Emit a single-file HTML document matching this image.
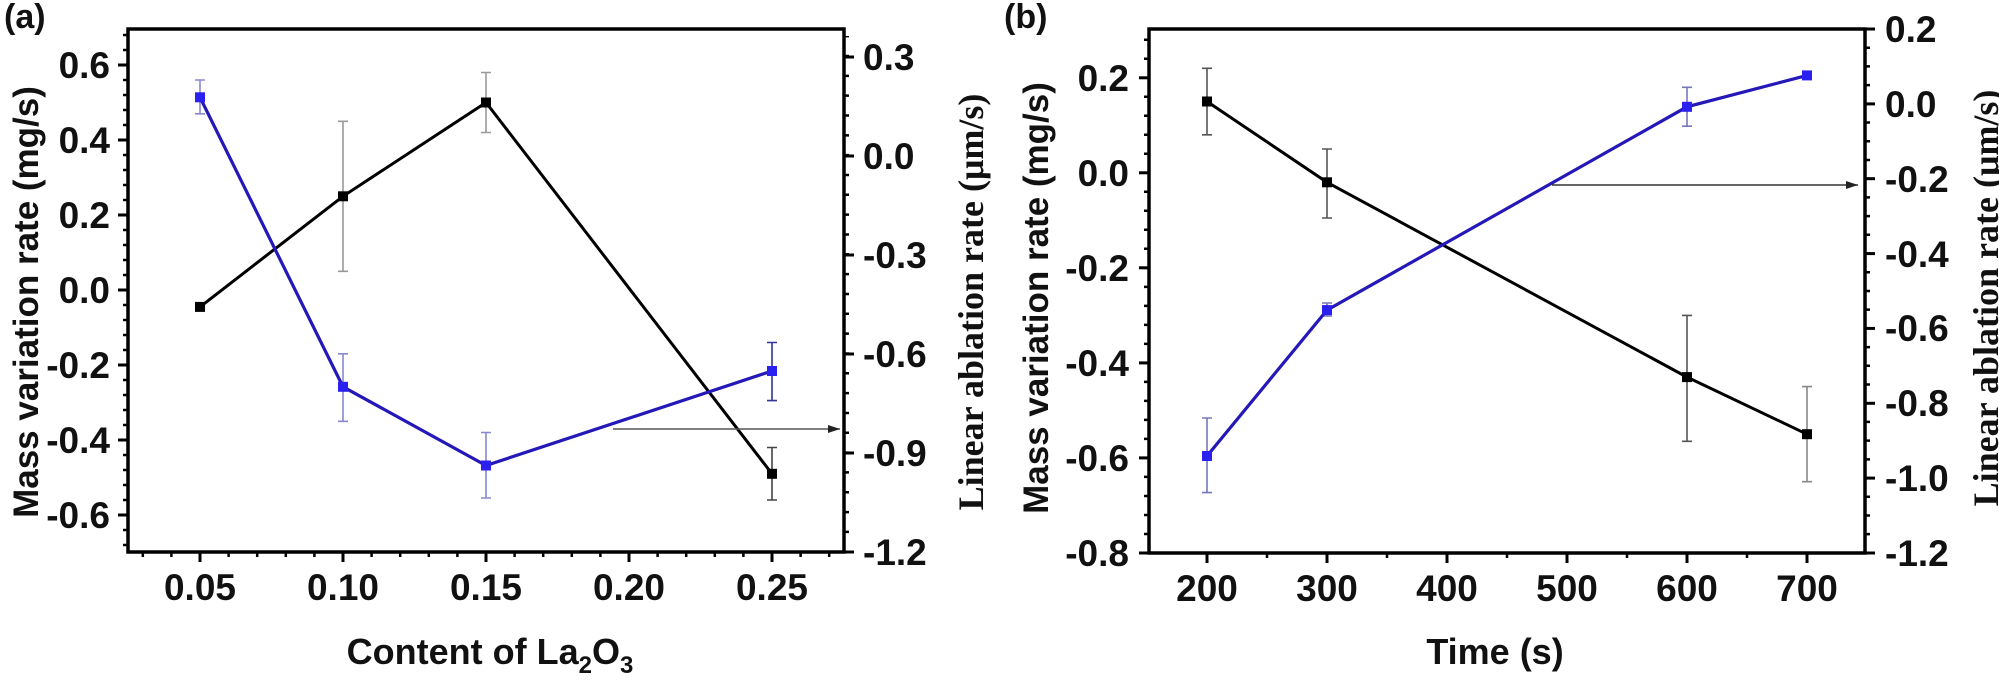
<!DOCTYPE html>
<html><head><meta charset="utf-8"><style>
html,body{margin:0;padding:0;background:#fff;}
svg{display:block;}
.t{font-family:"Liberation Sans",Arial,sans-serif;font-weight:bold;font-size:37px;fill:#111;}
.s{font-family:"Liberation Serif","Times New Roman",serif;font-weight:bold;font-size:36px;fill:#111;}
</style></head><body>
<svg width="1999" height="680" viewBox="0 0 1999 680" xmlns="http://www.w3.org/2000/svg">
<defs>
<marker id="ah" markerWidth="12" markerHeight="8" refX="12" refY="4" orient="auto" markerUnits="userSpaceOnUse"><path d="M0,0 L12,4 L0,8 Z" fill="#222"/></marker>
</defs>

<!-- ===== Panel (a) ===== -->
<text class="t" x="4" y="28" style="font-size:34px">(a)</text>
<rect x="128" y="29" width="716" height="523" fill="none" stroke="#000" stroke-width="3.5"/>
<!-- minor ticks -->
<line x1="125.5" y1="33.75" x2="125.5" y2="547" stroke="#000" stroke-width="5" stroke-dasharray="2.5 12.5"/>
<line x1="846.5" y1="553" x2="846.5" y2="35.95" stroke="#000" stroke-width="5" stroke-dasharray="2.5 17.33"/>
<line x1="141.55" y1="554.5" x2="831" y2="554.5" stroke="#000" stroke-width="5" stroke-dasharray="2.5 26.1"/>
<!-- major ticks -->
<g stroke="#000" stroke-width="3">
<line x1="118" y1="65" x2="128" y2="65"/><line x1="118" y1="140" x2="128" y2="140"/><line x1="118" y1="215" x2="128" y2="215"/><line x1="118" y1="290" x2="128" y2="290"/><line x1="118" y1="365" x2="128" y2="365"/><line x1="118" y1="440" x2="128" y2="440"/><line x1="118" y1="515" x2="128" y2="515"/>
<line x1="844" y1="57" x2="854" y2="57"/><line x1="844" y1="156" x2="854" y2="156"/><line x1="844" y1="255" x2="854" y2="255"/><line x1="844" y1="354" x2="854" y2="354"/><line x1="844" y1="453" x2="854" y2="453"/><line x1="844" y1="552" x2="854" y2="552"/>
<line x1="200" y1="552" x2="200" y2="562"/><line x1="343" y1="552" x2="343" y2="562"/><line x1="486" y1="552" x2="486" y2="562"/><line x1="629" y1="552" x2="629" y2="562"/><line x1="772" y1="552" x2="772" y2="562"/>
</g>
<g class="t" text-anchor="end">
<text x="110" y="78">0.6</text><text x="110" y="153">0.4</text><text x="110" y="228">0.2</text><text x="110" y="303">0.0</text><text x="110" y="378">-0.2</text><text x="110" y="453">-0.4</text><text x="110" y="528">-0.6</text>
</g>
<g class="t">
<text x="863" y="70">0.3</text><text x="863" y="169">0.0</text><text x="863" y="268">-0.3</text><text x="863" y="367">-0.6</text><text x="863" y="466">-0.9</text><text x="863" y="565">-1.2</text>
</g>
<g class="t" text-anchor="middle">
<text x="200" y="600">0.05</text><text x="343" y="600">0.10</text><text x="486" y="600">0.15</text><text x="629" y="600">0.20</text><text x="772" y="600">0.25</text>
</g>
<text class="t" text-anchor="middle" transform="translate(38,302) rotate(-90)" style="font-size:35px">Mass variation rate (mg/s)</text>
<text class="s" text-anchor="middle" transform="translate(983,302) rotate(-90)">Linear ablation rate (μm/s)</text>
<text class="t" text-anchor="middle" x="490" y="664" style="font-size:36px">Content of La<tspan font-size="24" dy="9">2</tspan><tspan dy="-9">O</tspan><tspan font-size="24" dy="9">3</tspan></text>

<!-- error bars a -->
<g stroke="#999" stroke-width="1.6" fill="none">
<path d="M343,121.3V271.3M338,121.3h10M338,271.3h10"/>
<path d="M486,72.5V132.5M481,72.5h10M481,132.5h10"/>
<path d="M772,447.5V500M767,447.5h10M767,500h10" stroke="#444"/>
</g>
<g stroke="#8888cc" stroke-width="1.6" fill="none">
<path d="M200,80V113.8M195,80h10M195,113.8h10"/>
<path d="M343,353.8V421.3M338,353.8h10M338,421.3h10"/>
<path d="M486,432.5V498M481,432.5h10M481,498h10"/>
<path d="M772,342.5V400.6M767,342.5h10M767,400.6h10" stroke="#333399"/>
</g>
<polyline points="200,306.9 343,196.3 486,102.5 772,473.8" fill="none" stroke="#000" stroke-width="3"/>
<polyline points="200,97.3 343,386.8 486,465.5 772,371" fill="none" stroke="#2418b8" stroke-width="3.2"/>
<g fill="#000"><rect x="195" y="301.9" width="10" height="10"/><rect x="338" y="191.3" width="10" height="10"/><rect x="481" y="97.5" width="10" height="10"/><rect x="767" y="468.8" width="10" height="10"/></g>
<g fill="#2a20f0"><rect x="195" y="92.3" width="10" height="10"/><rect x="338" y="381.8" width="10" height="10"/><rect x="481" y="460.5" width="10" height="10"/><rect x="767" y="366" width="10" height="10"/></g>
<line x1="613" y1="429" x2="840" y2="429" stroke="#555" stroke-width="1.5" marker-end="url(#ah)"/>

<!-- ===== Panel (b) ===== -->
<text class="t" x="1004" y="28" style="font-size:34px">(b)</text>
<rect x="1149" y="29" width="716" height="524" fill="none" stroke="#000" stroke-width="3.5"/>
<line x1="1146.5" y1="38.45" x2="1146.5" y2="554" stroke="#000" stroke-width="5" stroke-dasharray="2.5 16.51"/>
<line x1="1867.5" y1="27.75" x2="1867.5" y2="554" stroke="#000" stroke-width="5" stroke-dasharray="2.5 16.21"/>
<line x1="1205.75" y1="555.5" x2="1810" y2="555.5" stroke="#000" stroke-width="5" stroke-dasharray="2.5 57.5"/>
<g stroke="#000" stroke-width="3">
<line x1="1139" y1="77.8" x2="1149" y2="77.8"/><line x1="1139" y1="172.8" x2="1149" y2="172.8"/><line x1="1139" y1="267.8" x2="1149" y2="267.8"/><line x1="1139" y1="362.9" x2="1149" y2="362.9"/><line x1="1139" y1="457.9" x2="1149" y2="457.9"/><line x1="1139" y1="553" x2="1149" y2="553"/>
<line x1="1865" y1="29" x2="1875" y2="29"/><line x1="1865" y1="103.9" x2="1875" y2="103.9"/><line x1="1865" y1="178.7" x2="1875" y2="178.7"/><line x1="1865" y1="253.6" x2="1875" y2="253.6"/><line x1="1865" y1="328.4" x2="1875" y2="328.4"/><line x1="1865" y1="403.3" x2="1875" y2="403.3"/><line x1="1865" y1="478.1" x2="1875" y2="478.1"/><line x1="1865" y1="553" x2="1875" y2="553"/>
<line x1="1207" y1="553" x2="1207" y2="563"/><line x1="1327" y1="553" x2="1327" y2="563"/><line x1="1447" y1="553" x2="1447" y2="563"/><line x1="1567" y1="553" x2="1567" y2="563"/><line x1="1687" y1="553" x2="1687" y2="563"/><line x1="1807" y1="553" x2="1807" y2="563"/>
</g>
<g class="t" text-anchor="end">
<text x="1129" y="91">0.2</text><text x="1129" y="186">0.0</text><text x="1129" y="281">-0.2</text><text x="1129" y="376">-0.4</text><text x="1129" y="471">-0.6</text><text x="1129" y="566">-0.8</text>
</g>
<g class="t">
<text x="1885" y="42">0.2</text><text x="1885" y="117">0.0</text><text x="1885" y="192">-0.2</text><text x="1885" y="267">-0.4</text><text x="1885" y="341">-0.6</text><text x="1885" y="416">-0.8</text><text x="1885" y="491">-1.0</text><text x="1885" y="566">-1.2</text>
</g>
<g class="t" text-anchor="middle">
<text x="1207" y="601">200</text><text x="1327" y="601">300</text><text x="1447" y="601">400</text><text x="1567" y="601">500</text><text x="1687" y="601">600</text><text x="1807" y="601">700</text>
</g>
<text class="t" text-anchor="middle" transform="translate(1048,298) rotate(-90)" style="font-size:35px">Mass variation rate (mg/s)</text>
<text class="s" text-anchor="middle" transform="translate(1998,298) rotate(-90)">Linear ablation rate (μm/s)</text>
<text class="t" text-anchor="middle" x="1495" y="664" style="font-size:36px">Time (s)</text>

<g stroke="#555" stroke-width="1.6" fill="none">
<path d="M1207,68.3V134.8M1202,68.3h10M1202,134.8h10"/>
<path d="M1327,149V218M1322,149h10M1322,218h10"/>
<path d="M1687,315.4V441.3M1682,315.4h10M1682,441.3h10"/>
<path d="M1807,386.6V481.7M1802,386.6h10M1802,481.7h10" stroke="#888"/>
</g>
<g stroke="#7777bb" stroke-width="1.6" fill="none">
<path d="M1207,418V492.6M1202,418h10M1202,492.6h10"/>
<path d="M1327,303V316M1322,303h10M1322,316h10"/>
<path d="M1687,87.3V126.2M1682,87.3h10M1682,126.2h10"/>
</g>
<polyline points="1207,101.5 1327,182.3 1687,377.1 1807,434.2" fill="none" stroke="#000" stroke-width="3"/>
<polyline points="1207,456 1327,310.1 1687,106.8 1807,75.4" fill="none" stroke="#2418b8" stroke-width="3.2"/>
<g fill="#000"><rect x="1202" y="96.5" width="10" height="10"/><rect x="1322" y="177.3" width="10" height="10"/><rect x="1682" y="372.1" width="10" height="10"/><rect x="1802" y="429.2" width="10" height="10"/></g>
<g fill="#2a20f0"><rect x="1202" y="451" width="10" height="10"/><rect x="1322" y="305.1" width="10" height="10"/><rect x="1682" y="101.8" width="10" height="10"/><rect x="1802" y="70.4" width="10" height="10"/></g>
<line x1="1552" y1="185" x2="1858" y2="185" stroke="#333" stroke-width="1.5" marker-end="url(#ah)"/>
</svg>
</body></html>
